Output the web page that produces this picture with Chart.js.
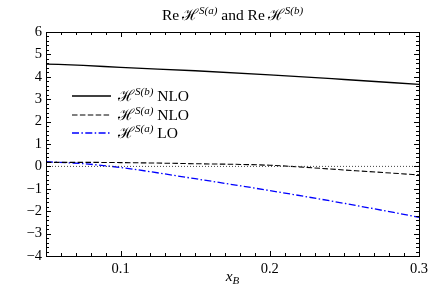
<!DOCTYPE html>
<html>
<head>
<meta charset="utf-8">
<script src="https://cdn.jsdelivr.net/npm/chart.js@4.4.1/dist/chart.umd.min.js"></script>
<style>
html,body{margin:0;padding:0;background:#fff;}
#wrap{width:442px;height:290px;position:relative;}
</style>
</head>
<body>
<div id="wrap"><canvas id="c"></canvas></div>
<script>
// ---- data ----
const xB = [0.05, 0.075, 0.1, 0.15, 0.2, 0.25, 0.3];
const hSbNLO = [4.57, 4.51, 4.42, 4.27, 4.09, 3.88, 3.66];
const hSaNLO = [0.18, 0.18, 0.17, 0.12, 0.05, -0.16, -0.38];
const hSaLO  = [0.21, 0.12, -0.05, -0.55, -1.08, -1.65, -2.27];
const zeroRef = [0, 0, 0, 0, 0, 0, 0];
const xTickVals = [0.1, 0.2, 0.3];
const yTickVals = [-4, -3, -2, -1, 0, 1, 2, 3, 4, 5, 6];

const SERIF = '"Liberation Serif","DejaVu Serif",serif';
const pts = ys => xB.map((x, i) => ({x: x, y: ys[i]}));

function drawRich(ctx, parts, x, y, align, big, small) {
  let total = 0;
  const fonts = parts.map(p => {
    const size = p.small ? small : big;
    return (p.italic ? 'italic ' : '') + size + 'px ' + SERIF;
  });
  parts.forEach((p, i) => { ctx.font = fonts[i]; total += ctx.measureText(p.t).width + (p.gap || 0); });
  let cx = align === 'center' ? x - total / 2 : x;
  ctx.textBaseline = 'alphabetic';
  ctx.textAlign = 'left';
  parts.forEach((p, i) => {
    ctx.font = fonts[i];
    const dy = p.sup ? -6.5 : (p.sub ? 3 : 0);
    ctx.fillText(p.t, cx, y + dy);
    cx += ctx.measureText(p.t).width + (p.gap || 0);
  });
}

const deco = {
  id: 'deco',
  afterDraw(chart) {
    const ctx = chart.ctx, a = chart.chartArea;
    const xs = chart.scales.x, ys = chart.scales.y;
    ctx.save();
    ctx.strokeStyle = '#000';
    ctx.lineWidth = 1;
    ctx.strokeRect(Math.round(a.left) + 0.5, Math.round(a.top) + 0.5, Math.round(a.right - a.left), Math.round(a.bottom - a.top));
    ctx.beginPath();
    for (let k = 5; k <= 30; k++) {
      const v = k / 100;
      const px = Math.round(xs.getPixelForValue(v)) + 0.5;
      const L = (k % 10 === 0) ? 5 : 3;
      ctx.moveTo(px, a.bottom); ctx.lineTo(px, a.bottom - L);
      ctx.moveTo(px, a.top); ctx.lineTo(px, a.top + L);
    }
    for (let k = -20; k <= 30; k++) {
      const v = k / 5;
      const py = Math.round(ys.getPixelForValue(v)) + 0.5;
      const L = (k % 5 === 0) ? 5 : 3;
      ctx.moveTo(a.left, py); ctx.lineTo(a.left + L, py);
      ctx.moveTo(a.right, py); ctx.lineTo(a.right - L, py);
    }
    ctx.stroke();

    ctx.fillStyle = '#000';
    drawRich(ctx, [
      {t: 'Re', gap: 3}, {t: '\u210B', gap: 1}, {t: 'S(a)', small: true, sup: true, italic: true},
      {t: ' and Re', gap: 3}, {t: '\u210B', gap: 1}, {t: 'S(b)', small: true, sup: true, italic: true}
    ], (a.left + a.right) / 2, 20, 'center', 15.5, 11);
    drawRich(ctx, [{t: 'x', italic: true}, {t: 'B', italic: true, small: true, sub: true}],
      (a.left + a.right) / 2, 281, 'center', 15.5, 11);

    const items = [
      {color: '#000', dash: [], label: 'S(b)', w: 1.3, tail: ' NLO'},
      {color: '#000', dash: [5.5, 2.4], label: 'S(a)', w: 1.1, tail: ' NLO'},
      {color: '#0000ff', dash: [7, 2.4, 1.5, 2.4], label: 'S(a)', w: 1.3, tail: ' LO'}
    ];
    const rows = [96, 115, 133];
    items.forEach((it, i) => {
      ctx.beginPath();
      ctx.strokeStyle = it.color;
      ctx.lineWidth = it.w;
      ctx.setLineDash(it.dash);
      ctx.moveTo(72, rows[i]); ctx.lineTo(111, rows[i]);
      ctx.stroke();
      ctx.setLineDash([]);
      ctx.fillStyle = '#000';
      drawRich(ctx, [{t: '\u210B', gap: 1}, {t: it.label, small: true, sup: true, italic: true}, {t: it.tail, gap: 0}],
        118, rows[i] + 5, 'left', 15.5, 11);
    });
    ctx.restore();
  }
};

new Chart(document.getElementById('c'), {
  type: 'scatter',
  data: {
    datasets: [
      {data: pts(zeroRef), showLine: true, borderColor: '#444', borderWidth: 1, borderDash: [1, 2], pointRadius: 0},
      {data: pts(hSbNLO), showLine: true, borderColor: '#000', borderWidth: 1.3, pointRadius: 0, cubicInterpolationMode: 'monotone'},
      {data: pts(hSaNLO), showLine: true, borderColor: '#000', borderWidth: 1.1, borderDash: [5.5, 2.4], pointRadius: 0, cubicInterpolationMode: 'monotone'},
      {data: pts(hSaLO), showLine: true, borderColor: '#0000ff', borderWidth: 1.3, borderDash: [7, 2.4, 1.5, 2.4], pointRadius: 0, cubicInterpolationMode: 'monotone'}
    ]
  },
  options: {
    responsive: true,
    maintainAspectRatio: false,
    animation: false,
    events: [],
    layout: {padding: {top: 32, right: 23, left: 0, bottom: 0}},
    plugins: {legend: {display: false}, title: {display: false}, tooltip: {enabled: false}},
    scales: {
      x: {
        type: 'linear', min: 0.05, max: 0.3,
        grid: {display: false, drawTicks: false},
        border: {display: false},
        afterBuildTicks: s => { s.ticks = xTickVals.map(v => ({value: v})); },
        afterFit: s => { s.height = 34; },
        ticks: {color: '#000', padding: 4, maxRotation: 0, autoSkip: false,
          font: {family: SERIF, size: 14.5},
          callback: v => String(v)}
      },
      y: {
        min: -4, max: 6,
        grid: {display: false, drawTicks: false},
        border: {display: false},
        afterBuildTicks: s => { s.ticks = yTickVals.map(v => ({value: v})); },
        afterFit: s => { s.width = 46; },
        ticks: {color: '#000', padding: 4, autoSkip: false,
          font: {family: SERIF, size: 14.5},
          callback: v => (v < 0 ? '\u2212' + Math.abs(v) : String(v))}
      }
    }
  },
  plugins: [deco]
});
</script>
</body>
</html>
